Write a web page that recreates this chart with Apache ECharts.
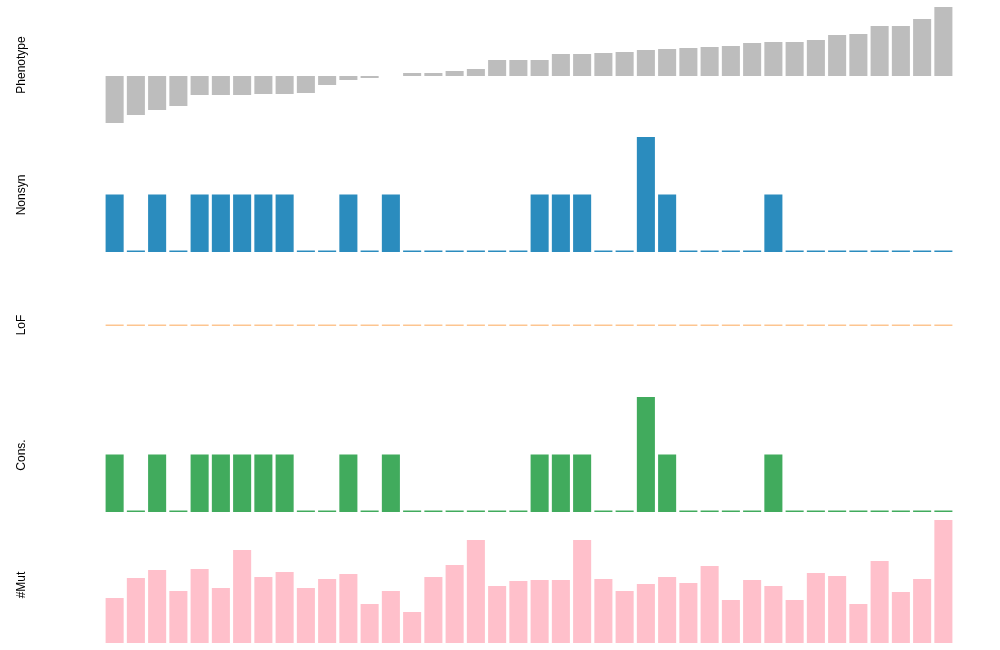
<!DOCTYPE html>
<html>
<head>
    <meta charset="utf-8">
    <title>Mutation panels</title>
    <script src="https://cdn.jsdelivr.net/npm/echarts@6/dist/echarts.min.js"></script>
</head>
<body style="margin:0">
    <div id="main" style="width: 1000px;height:650px;"></div>
    <script>
        // 40 samples, ordered by phenotype
        var samples = [];
        for (var i = 1; i <= 40; i++) samples.push('S' + i);

        var phenotype = [-2.35, -1.95, -1.7, -1.5, -0.95, -0.95, -0.95, -0.9, -0.9, -0.85,
                         -0.45, -0.2, -0.1, 0, 0.15, 0.15, 0.25, 0.35, 0.8, 0.8,
                         0.8, 1.1, 1.1, 1.15, 1.2, 1.3, 1.35, 1.4, 1.45, 1.5,
                         1.65, 1.7, 1.7, 1.8, 2.05, 2.1, 2.5, 2.5, 2.85, 3.45];
        var nonsyn = [1, 0, 1, 0, 1, 1, 1, 1, 1, 0, 0, 1, 0, 1, 0, 0, 0, 0, 0, 0,
                      1, 1, 1, 0, 0, 2, 1, 0, 0, 0, 0, 1, 0, 0, 0, 0, 0, 0, 0, 0];
        var lof = [0, 0, 0, 0, 0, 0, 0, 0, 0, 0, 0, 0, 0, 0, 0, 0, 0, 0, 0, 0,
                   0, 0, 0, 0, 0, 0, 0, 0, 0, 0, 0, 0, 0, 0, 0, 0, 0, 0, 0, 0];
        var cons = [1, 0, 1, 0, 1, 1, 1, 1, 1, 0, 0, 1, 0, 1, 0, 0, 0, 0, 0, 0,
                    1, 1, 1, 0, 0, 2, 1, 0, 0, 0, 0, 1, 0, 0, 0, 0, 0, 0, 0, 0];
        var nmut = [45, 65, 73, 52, 74, 55, 93, 66, 71, 55, 64, 69, 39, 52, 31, 66, 78, 103, 57, 62,
                    63, 63, 103, 64, 52, 59, 66, 60, 77, 43, 63, 57, 43, 70, 67, 39, 82, 51, 64, 123];

        var panelNames = ['Phenotype', 'Nonsyn', 'LoF', 'Cons.', '#Mut'];

        // one panel per row
        var panels = [
            { data: phenotype, color: '#bdbdbd', top: 7,   height: 116, min: -2.35, max: 3.45, minH: 0 },
            { data: nonsyn,    color: '#2b8cbe', top: 137, height: 115, min: 0,     max: 2,    minH: 1.5 },
            { data: lof,       color: '#fdc590', top: 268, height: 116, min: -1,    max: 1,    minH: 1.5 },
            { data: cons,      color: '#41ab5d', top: 397, height: 115, min: 0,     max: 2,    minH: 1.5 },
            { data: nmut,      color: '#ffc0cb', top: 520, height: 123, min: 0,     max: 123,  minH: 0 }
        ];

        var grids = [], xAxes = [], yAxes = [], series = [], texts = [];
        panels.forEach(function (p, k) {
            grids.push({ left: 104, right: 46, top: p.top, height: p.height });
            xAxes.push({
                type: 'category', gridIndex: k, data: samples,
                axisLine: { show: false }, axisTick: { show: false }, axisLabel: { show: false }
            });
            yAxes.push({
                type: 'value', gridIndex: k, min: p.min, max: p.max,
                axisLine: { show: false }, axisTick: { show: false },
                axisLabel: { show: false }, splitLine: { show: false }
            });
            series.push({
                type: 'bar', name: panelNames[k], xAxisIndex: k, yAxisIndex: k,
                data: p.data, barCategoryGap: '15%', barMinHeight: p.minH,
                itemStyle: { color: p.color }, silent: true
            });
            // row label, centred on its 130px band
            texts.push({
                type: 'text', x: 22, y: 65 + 130 * k, rotation: Math.PI / 2,
                style: {
                    text: panelNames[k], fill: '#000', font: '12px "Liberation Sans", Arial, sans-serif',
                    align: 'center', verticalAlign: 'middle'
                }
            });
        });

        var myChart = echarts.init(document.getElementById('main'));
        myChart.setOption({
            animation: false,
            grid: grids,
            xAxis: xAxes,
            yAxis: yAxes,
            series: series,
            graphic: texts
        });
    </script>
</body>
</html>
